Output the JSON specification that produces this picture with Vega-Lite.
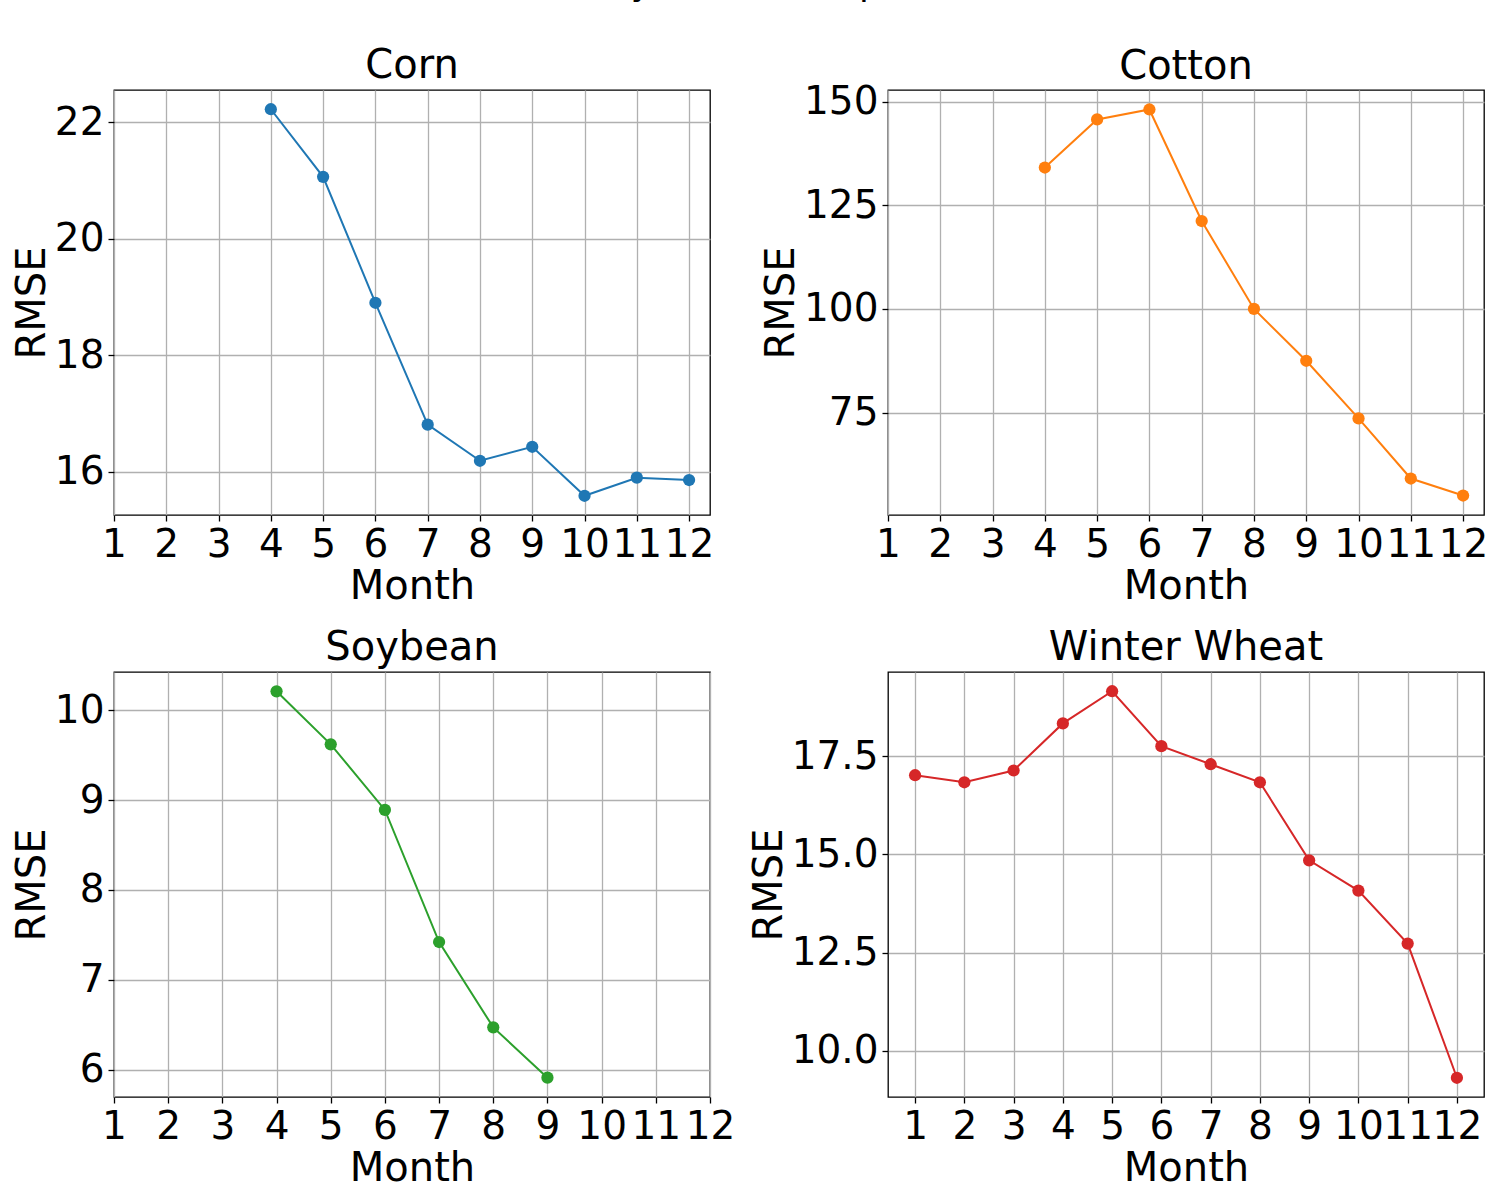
{
  "$schema": "https://vega.github.io/schema/vega-lite/v6.json",
  "title": {
    "text": "Monthly RMSE Comparison",
    "fontSize": 36,
    "anchor": "middle",
    "baseline": "alphabetic",
    "offset": 14
  },
  "padding": {"left": 11, "top": -34, "right": 0, "bottom": 0},
  "background": "white",
  "data": {
    "values": [
      {"crop": "Corn", "month": 4, "rmse": 22.22},
      {"crop": "Corn", "month": 5, "rmse": 21.06},
      {"crop": "Corn", "month": 6, "rmse": 18.9},
      {"crop": "Corn", "month": 7, "rmse": 16.81},
      {"crop": "Corn", "month": 8, "rmse": 16.19},
      {"crop": "Corn", "month": 9, "rmse": 16.43},
      {"crop": "Corn", "month": 10, "rmse": 15.59},
      {"crop": "Corn", "month": 11, "rmse": 15.9},
      {"crop": "Corn", "month": 12, "rmse": 15.86},
      {"crop": "Cotton", "month": 4, "rmse": 134.1},
      {"crop": "Cotton", "month": 5, "rmse": 145.7},
      {"crop": "Cotton", "month": 6, "rmse": 148.1},
      {"crop": "Cotton", "month": 7, "rmse": 121.2},
      {"crop": "Cotton", "month": 8, "rmse": 100.0},
      {"crop": "Cotton", "month": 9, "rmse": 87.5},
      {"crop": "Cotton", "month": 10, "rmse": 73.6},
      {"crop": "Cotton", "month": 11, "rmse": 59.1},
      {"crop": "Cotton", "month": 12, "rmse": 55.0},
      {"crop": "Soybean", "month": 4, "rmse": 10.21},
      {"crop": "Soybean", "month": 5, "rmse": 9.62},
      {"crop": "Soybean", "month": 6, "rmse": 8.89},
      {"crop": "Soybean", "month": 7, "rmse": 7.42},
      {"crop": "Soybean", "month": 8, "rmse": 6.47},
      {"crop": "Soybean", "month": 9, "rmse": 5.91},
      {"crop": "Winter Wheat", "month": 1, "rmse": 17.02},
      {"crop": "Winter Wheat", "month": 2, "rmse": 16.84},
      {"crop": "Winter Wheat", "month": 3, "rmse": 17.14},
      {"crop": "Winter Wheat", "month": 4, "rmse": 18.34},
      {"crop": "Winter Wheat", "month": 5, "rmse": 19.16},
      {"crop": "Winter Wheat", "month": 6, "rmse": 17.76},
      {"crop": "Winter Wheat", "month": 7, "rmse": 17.3},
      {"crop": "Winter Wheat", "month": 8, "rmse": 16.84},
      {"crop": "Winter Wheat", "month": 9, "rmse": 14.85},
      {"crop": "Winter Wheat", "month": 10, "rmse": 14.08},
      {"crop": "Winter Wheat", "month": 11, "rmse": 12.73},
      {"crop": "Winter Wheat", "month": 12, "rmse": 9.31}
    ]
  },
  "columns": 2,
  "spacing": {"row": 157, "column": 178},
  "bounds": "flush",
  "resolve": {"scale": {"x": "independent", "y": "independent"}},
  "concat": [
    {
      "title": "Corn",
      "width": 596,
      "height": 425,
      "transform": [{"filter": "datum.crop === 'Corn'"}],
      "encoding": {
        "x": {"field": "month", "type": "quantitative",
              "scale": {"domain": [1, 12.4], "nice": false, "zero": false},
              "axis": {"values": [1, 2, 3, 4, 5, 6, 7, 8, 9, 10, 11, 12], "format": "d", "title": "Month"}},
        "y": {"field": "rmse", "type": "quantitative",
              "scale": {"domain": [15.26, 22.55], "nice": false, "zero": false},
              "axis": {"values": [16, 18, 20, 22], "format": "d", "title": "RMSE"}}
      },
      "layer": [
        {"mark": {"type": "line", "color": "#1f77b4", "strokeWidth": 2}},
        {"mark": {"type": "point", "filled": true, "opacity": 1, "size": 150, "color": "#1f77b4"}}
      ]
    },
    {
      "title": {"text": "Cotton", "dy": 8},
      "width": 596,
      "height": 425,
      "transform": [{"filter": "datum.crop === 'Cotton'"}],
      "encoding": {
        "x": {"field": "month", "type": "quantitative",
              "scale": {"domain": [1, 12.4], "nice": false, "zero": false},
              "axis": {"values": [1, 2, 3, 4, 5, 6, 7, 8, 9, 10, 11, 12], "format": "d", "title": "Month"}},
        "y": {"field": "rmse", "type": "quantitative",
              "scale": {"domain": [50.3, 152.8], "nice": false, "zero": false},
              "axis": {"values": [75, 100, 125, 150], "format": "d", "title": "RMSE"}}
      },
      "layer": [
        {"mark": {"type": "line", "color": "#ff7f0e", "strokeWidth": 2}},
        {"mark": {"type": "point", "filled": true, "opacity": 1, "size": 150, "color": "#ff7f0e"}}
      ]
    },
    {
      "title": "Soybean",
      "width": 596,
      "height": 425,
      "transform": [{"filter": "datum.crop === 'Soybean'"}],
      "encoding": {
        "x": {"field": "month", "type": "quantitative",
              "scale": {"domain": [1, 12], "nice": false, "zero": false},
              "axis": {"values": [1, 2, 3, 4, 5, 6, 7, 8, 9, 10, 11, 12], "format": "d", "title": "Month"}},
        "y": {"field": "rmse", "type": "quantitative",
              "scale": {"domain": [5.695, 10.425], "nice": false, "zero": false},
              "axis": {"values": [6, 7, 8, 9, 10], "format": "d", "title": "RMSE"}}
      },
      "layer": [
        {"mark": {"type": "line", "color": "#2ca02c", "strokeWidth": 2}},
        {"mark": {"type": "point", "filled": true, "opacity": 1, "size": 150, "color": "#2ca02c"}}
      ]
    },
    {
      "title": "Winter Wheat",
      "width": 596,
      "height": 425,
      "transform": [{"filter": "datum.crop === 'Winter Wheat'"}],
      "encoding": {
        "x": {"field": "month", "type": "quantitative",
              "scale": {"domain": [0.45, 12.55], "nice": false, "zero": false},
              "axis": {"values": [1, 2, 3, 4, 5, 6, 7, 8, 9, 10, 11, 12], "format": "d", "title": "Month"}},
        "y": {"field": "rmse", "type": "quantitative",
              "scale": {"domain": [8.82, 19.65], "nice": false, "zero": false},
              "axis": {"values": [10, 12.5, 15, 17.5], "format": ".1f", "title": "RMSE"}}
      },
      "layer": [
        {"mark": {"type": "line", "color": "#d62728", "strokeWidth": 2}},
        {"mark": {"type": "point", "filled": true, "opacity": 1, "size": 150, "color": "#d62728"}}
      ]
    }
  ],
  "config": {
    "font": "DejaVu Sans",
    "view": {"stroke": "black", "strokeWidth": 1.3},
    "axis": {
      "domain": false,
      "grid": true,
      "gridColor": "#b0b0b0",
      "gridWidth": 1.3,
      "gridOpacity": 1,
      "ticks": true,
      "tickColor": "black",
      "tickSize": 6,
      "tickWidth": 1.3,
      "labelFont": "DejaVu Sans",
      "labelFontSize": 39,
      "labelColor": "black",
      "titleFont": "DejaVu Sans",
      "titleFontSize": 40,
      "titleFontWeight": "normal",
      "titleColor": "black",
      "labelOverlap": false,
      "labelFlush": false,
      "labelBound": false
    },
    "axisX": {"labelPadding": 4, "titlePadding": 2},
    "axisY": {"labelPadding": 4, "titlePadding": 2},
    "title": {"font": "DejaVu Sans", "fontSize": 40, "fontWeight": "normal", "color": "black", "offset": 0}
  }
}
